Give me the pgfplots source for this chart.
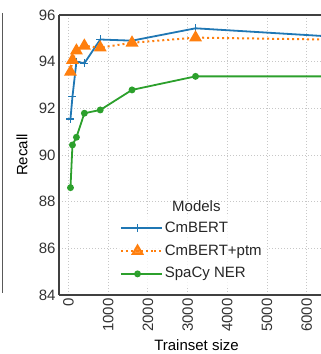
\documentclass[border=0pt]{standalone}
\usepackage{pgfplots}
\pgfplotsset{compat=1.18}
\usepackage{fontspec}
\setmainfont{Liberation Sans}
\definecolor{c1}{HTML}{1F77B4}
\definecolor{c2}{HTML}{FF7F0E}
\definecolor{c3}{HTML}{2CA02C}
\begin{document}
\begin{tikzpicture}
\useasboundingbox (0,0) rectangle (321bp,354bp);
\draw[black!65, line width=1bp] (2bp,341bp) -- (2bp,61bp);
\begin{axis}[
  at={(59bp,59bp)}, anchor=south west,
  scale only axis, width=262bp, height=280bp,
  xmin=-239, xmax=6360, ymin=84, ymax=96,
  axis x line*=box, axis y line*=left,
  axis line style={draw=black!75, line width=1.3bp},
  xtick={0,1000,2000,3000,4000,5000,6000},
  ytick={84,86,88,90,92,94,96},
  major tick length=0pt,
  grid=major,
  major grid style={draw=black!22, line width=0.9bp, dash pattern=on 1bp off 2bp},
  font=\fontsize{15bp}{18bp}\selectfont,
  tick label style={text=black!80},
  /pgf/number format/assume math mode=true,
  /pgf/number format/1000 sep={},
  xticklabel style={rotate=90, anchor=east},
  every axis y label/.style={at={(axis description cs:-0.1412,0.5)}, rotate=90, anchor=center},
  every axis x label/.style={at={(axis description cs:0.5248,-0.1786)}, anchor=center},
  xlabel={Trainset size}, ylabel={Recall},
  legend cell align=left,
  legend style={at={(axis description cs:0.2202,0.2818)}, anchor=north west,
    draw=none, fill=white, fill opacity=0.8, text opacity=1, inner sep=3bp,
    row sep=4.8bp, text=black!85,
    nodes={text height=11bp, text depth=3bp, inner sep=2bp}},
  legend image code/.code={
    \draw[mark repeat=2,mark phase=2] plot coordinates {(0bp,0bp) (16.65bp,0bp) (33.3bp,0bp)};
    \path (33.3bp,0bp) -- (41bp,0bp);
  },
]
\addplot[c1, line width=1.8bp, mark=+, mark size=4bp, mark options={line width=1.5bp}]
  coordinates {(50,91.55) (100,92.5) (200,94.0) (400,93.93) (800,94.95) (1600,94.9) (3200,95.43) (6400,95.1)};
\addlegendentry{CmBERT}
\addplot[c2, line width=2bp, dash pattern=on 2bp off 3bp, mark=triangle*, mark size=5.5bp, mark options={solid}]
  coordinates {(50,93.56) (100,94.07) (200,94.47) (400,94.68) (800,94.6) (1600,94.81) (3200,95.03) (6400,94.95)};
\addlegendentry{CmBERT+ptm}
\addplot[c3, line width=1.8bp, mark=*, mark size=2.5bp]
  coordinates {(50,88.6) (100,90.43) (200,90.76) (400,91.79) (800,91.93) (1600,92.79) (3200,93.37) (6400,93.37)};
\addlegendentry{SpaCy NER}
\node[anchor=center, text=black!85] at (axis description cs:0.5244,0.3186) {Models};
\end{axis}
\end{tikzpicture}
\end{document}
